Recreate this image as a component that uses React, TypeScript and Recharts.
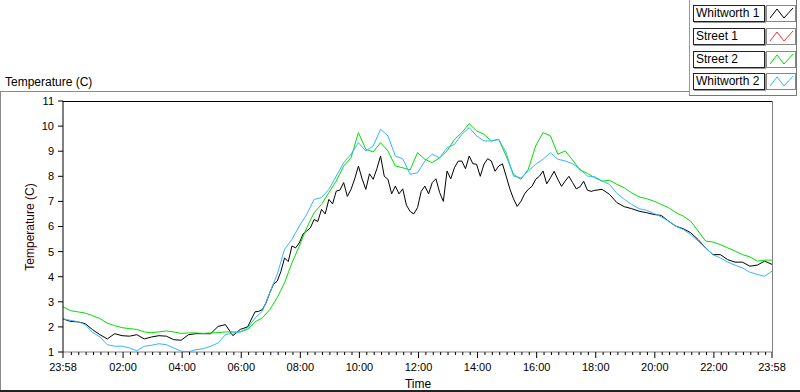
import { LineChart, Line, XAxis, YAxis, Label } from "recharts";

// samples every 15 minutes, starting 23:58
const stepMinutes = 15;

const tickMinutes = [0, 122, 242, 362, 482, 602, 722, 842, 962, 1082, 1202, 1322, 1440];
const tickLabels = ["23:58", "02:00", "04:00", "06:00", "08:00", "10:00", "12:00", "14:00", "16:00", "18:00", "20:00", "22:00", "23:58"];
const yTicks = [1, 2, 3, 4, 5, 6, 7, 8, 9, 10, 11];

const whitworth1 = [
  2.32, 2.22, 2.2, 2.13, 1.89, 1.69, 1.52, 1.73, 1.65, 1.63, 1.69, 1.52, 1.6, 1.65, 1.63, 1.49,
  1.47, 1.69, 1.73, 1.73, 1.73, 2.02, 2.09, 1.65, 1.9, 2.0, 2.6, 2.69, 3.36, 3.82, 4.75, 5.22,
  5.35, 5.82, 6.28, 6.68, 7.08, 7.41, 7.75, 7.48, 8.41, 7.48, 7.88, 8.81, 7.88, 7.61, 7.5, 6.6,
  6.75, 7.61, 7.75, 7.35, 8.21, 8.34, 8.61, 8.81, 8.48, 8.48, 8.61, 8.41, 8.01, 7.1, 7.0, 7.48,
  7.88, 8.21, 7.94, 7.88, 7.81, 7.75, 7.58, 7.45, 7.44, 7.48, 7.28, 6.95, 6.79, 6.71, 6.61, 6.55,
  6.48, 6.44, 6.21, 6.01, 5.91, 5.75, 5.48, 5.15, 4.88, 4.88, 4.68, 4.58, 4.58, 4.42, 4.46, 4.62,
  4.49,
];
// extra in-between readings of the noisy Whitworth 1 trace (06:35 .. 17:50)
const whitworth1MidFrom = 26;
const whitworth1Mid = [
  2.62, 2.96, 3.7, 4.2, 4.6, 5.15, 5.7, 5.95, 6.2, 6.5, 6.9, 7.45, 7.2, 7.9, 7.9, 8.1,
  8.3, 8.0, 7.3, 7.3, 6.85, 6.5, 7.4, 7.3, 7.9, 7.0, 7.9, 8.6, 8.3, 8.5, 8.0, 8.7,
  8.2, 8.5, 7.5, 6.8, 7.3, 7.6, 8.0, 7.7, 8.2, 7.6, 8.0, 7.5, 7.8, 7.4,
];

const street1: number[] = [];

const street2 = [
  2.8, 2.65, 2.6, 2.55, 2.45, 2.33, 2.15, 2.05, 1.97, 1.93, 1.9, 1.8, 1.77, 1.8, 1.84, 1.8,
  1.74, 1.76, 1.76, 1.74, 1.76, 1.77, 1.8, 1.8, 1.8, 1.9, 2.2, 2.36, 2.69, 3.16, 3.76, 4.55,
  5.22, 5.95, 6.55, 6.88, 7.35, 7.81, 8.41, 8.74, 9.74, 9.08, 8.97, 9.34, 9.01, 8.41, 8.34, 8.25,
  8.94, 8.68, 8.54, 8.74, 9.01, 9.47, 9.74, 10.1, 9.81, 9.67, 9.41, 9.47, 8.81, 8.08, 7.88, 8.28,
  9.21, 9.74, 9.61, 8.88, 9.01, 8.65, 8.25, 8.12, 7.94, 7.81, 7.84, 7.68, 7.54, 7.34, 7.18, 7.11,
  7.01, 6.88, 6.75, 6.55, 6.41, 6.21, 5.82, 5.42, 5.38, 5.28, 5.15, 5.02, 4.88, 4.79, 4.62, 4.66,
  4.66,
];

const whitworth2 = [
  2.32, 2.26, 2.21, 2.09, 1.78, 1.6, 1.29, 1.23, 1.23, 1.16, 1.05, 1.23, 1.27, 1.33, 1.29, 1.16,
  1.03, 1.01, 1.09, 1.13, 1.23, 1.36, 1.69, 1.76, 1.8, 1.95, 2.35, 2.63, 3.36, 4.09, 5.09, 5.49,
  6.02, 6.48, 7.08, 7.15, 7.48, 8.01, 8.54, 8.88, 9.34, 9.01, 9.21, 9.87, 9.61, 8.81, 8.7, 8.08,
  8.14, 8.61, 8.88, 8.74, 9.14, 9.27, 9.67, 9.94, 9.61, 9.41, 9.41, 9.47, 8.94, 8.01, 7.94, 8.21,
  8.48, 8.68, 8.94, 8.68, 8.61, 8.5, 8.3, 8.01, 7.98, 7.81, 7.68, 7.32, 7.08, 6.88, 6.71, 6.65,
  6.52, 6.39, 6.21, 6.01, 5.88, 5.68, 5.42, 5.15, 4.88, 4.75, 4.58, 4.46, 4.35, 4.18, 4.09, 4.02,
  4.22,
];

const series = [
  { key: "w1", name: "Whitworth 1", color: "#000000" },
  { key: "s1", name: "Street 1", color: "#ff3030" },
  { key: "s2", name: "Street 2", color: "#00e000" },
  { key: "w2", name: "Whitworth 2", color: "#33b5ff" },
];

const data = whitworth1.map((v, i) => ({
  t: i * stepMinutes,
  s1: street1[i],
  s2: street2[i],
  w2: whitworth2[i],
}));

const w1Data: { t: number; w1: number }[] = [];
whitworth1.forEach((v, i) => {
  w1Data.push({ t: i * stepMinutes, w1: v });
  const j = i - whitworth1MidFrom;
  if (j >= 0 && j < whitworth1Mid.length) {
    w1Data.push({ t: i * stepMinutes + stepMinutes / 2, w1: whitworth1Mid[j] });
  }
});

// quarter-hour minor ticks (00:15, 00:30 ...) plus the end points
const minorTicks: number[] = [];
for (let m = 17; m < 1440; m += 15) minorTicks.push(m);
const allTicks = [0, ...minorTicks, 1440];

const font = "'Liberation Sans', Arial, sans-serif";

function TimeTick(props: any) {
  const { x, y, payload } = props;
  const idx = tickMinutes.indexOf(payload.value);
  const major = idx >= 0;
  return (
    <g>
      <line x1={x} x2={x} y1={y} y2={y + (major ? 6 : 3)} stroke="#000" />
      {major && (
        <text x={x} y={y + 19} textAnchor="middle" fontSize={11} fill="#000">
          {tickLabels[idx]}
        </text>
      )}
    </g>
  );
}

function LegendBox({ name, color, row }: { name: string; color: string; row: number }) {
  const top = 5 + row * 22.8;
  return (
    <>
      <div
        style={{
          position: "absolute",
          left: 693,
          top,
          width: 68,
          height: 15,
          border: "1px solid #222",
          boxShadow: "1px 1px 0 #999",
          background: "#fff",
          fontSize: 12,
          lineHeight: "15px",
          paddingLeft: 2,
          whiteSpace: "nowrap",
        }}
      >
        {name}
      </div>
      <svg
        width={30}
        height={17}
        style={{ position: "absolute", left: 766, top, border: "1px solid #888", boxSizing: "border-box" }}
      >
        <polyline points="3,12 10,3 17,12 26,2" fill="none" stroke={color} strokeWidth={1} />
      </svg>
    </>
  );
}

export default function App() {
  return (
    <div style={{ position: "absolute", left: 0, top: 0, width: 800, height: 392, background: "#fff", fontFamily: font, overflow: "hidden" }}>
      {/* outer frame */}
      <div style={{ position: "absolute", left: 0, top: 91, width: 690, height: 1, background: "#8a8a8a" }} />
      <div style={{ position: "absolute", left: 0, top: 91, width: 1, height: 300, background: "#8a8a8a" }} />
      <div style={{ position: "absolute", left: 0, top: 390, width: 800, height: 2, background: "#222" }} />
      <div style={{ position: "absolute", left: 689, top: -1, width: 106, height: 96, borderRight: "1px solid #777", borderBottom: "1px solid #777", borderLeft: "1px solid #999" }} />

      <div style={{ position: "absolute", left: 5, top: 75, fontSize: 12, color: "#000" }}>Temperature (C)</div>

      {series.map((s, i) => (
        <LegendBox key={s.key} name={s.name} color={s.color} row={i} />
      ))}

      <div style={{ position: "absolute", left: 0, top: 0 }}>
        <LineChart width={800} height={392} data={data} margin={{ top: 101, right: 28, bottom: 20, left: 0 }}>
          <XAxis
            dataKey="t"
            type="number"
            domain={[0, 1440]}
            ticks={allTicks}
            interval={0}
            tick={<TimeTick />}
            tickLine={false}
            tickSize={0}
            tickMargin={0}
            height={20}
            axisLine={{ stroke: "#808080" }}
          >
            <Label
              content={() => (
                <text x={418} y={388} textAnchor="middle" fontSize={12} fill="#000">
                  Time
                </text>
              )}
            />
          </XAxis>
          <YAxis
            type="number"
            domain={[1, 11]}
            ticks={yTicks}
            interval={0}
            width={63}
            tickSize={5}
            tickMargin={4}
            tick={{ fontSize: 11, fill: "#000" }}
            tickLine={{ stroke: "#000" }}
            axisLine={{ stroke: "#000" }}
          >
            <Label
              content={() => (
                <text x={34} y={227} transform="rotate(-90 34 227)" textAnchor="middle" fontSize={12} fill="#300000">
                  Temperature (C)
                </text>
              )}
            />
          </YAxis>
          {series.map((s) => (
            <Line
              key={s.key}
              type="linear"
              data={s.key === "w1" ? w1Data : undefined}
              dataKey={s.key}
              name={s.name}
              stroke={s.color}
              strokeWidth={1}
              dot={false}
              isAnimationActive={false}
            />
          ))}
        </LineChart>
      </div>

      {/* plot frame top / right */}
      <div style={{ position: "absolute", left: 63, top: 101, width: 709, height: 1, background: "#000" }} />
      <div style={{ position: "absolute", left: 772, top: 101, width: 1, height: 252, background: "#808080" }} />
    </div>
  );
}
